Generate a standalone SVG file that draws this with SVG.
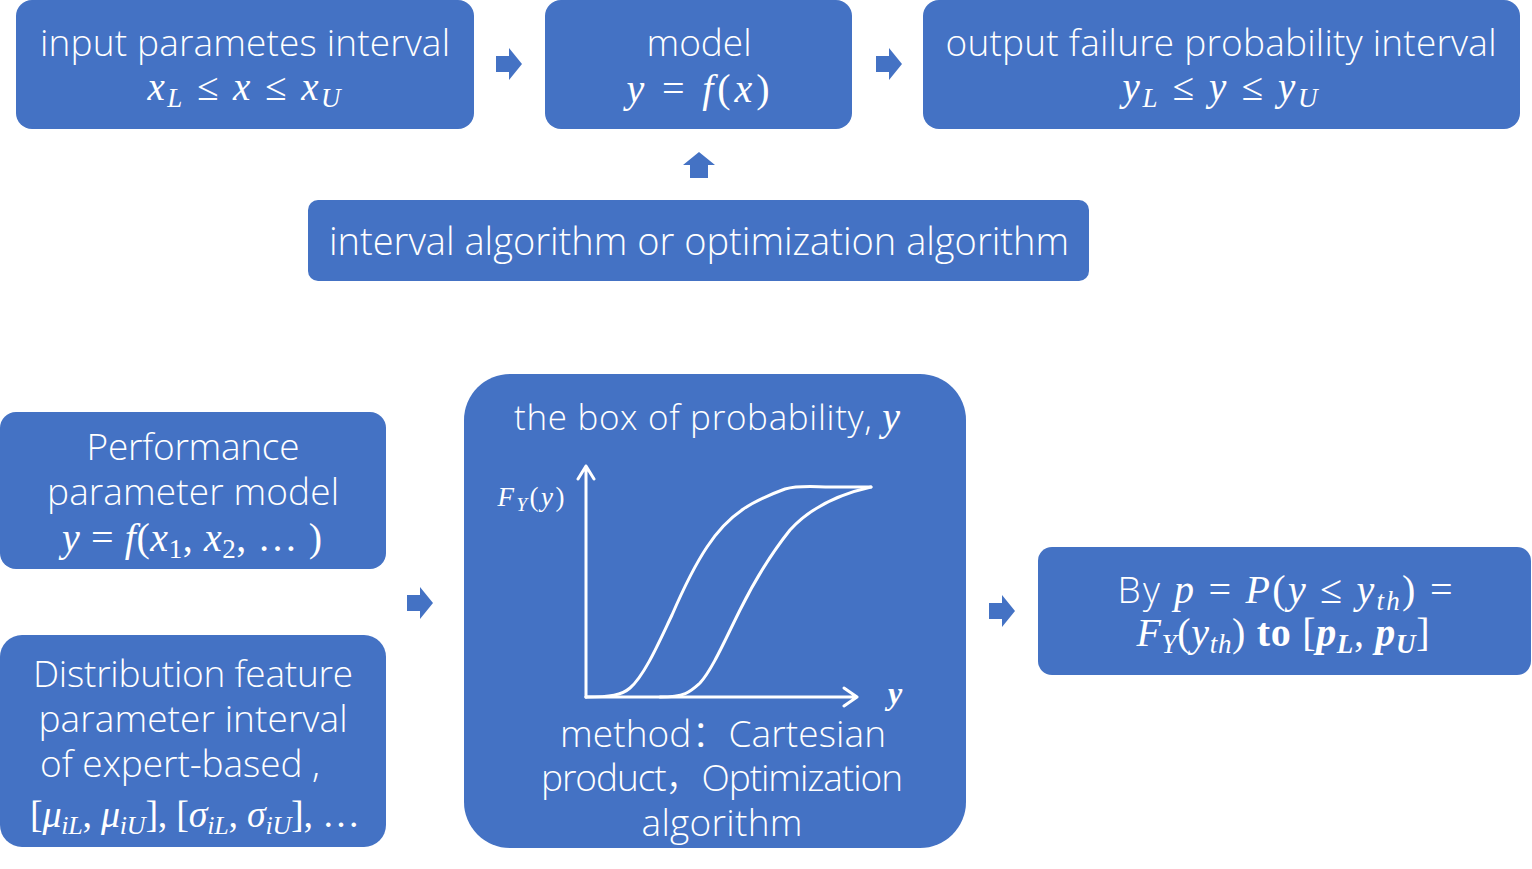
<svg xmlns="http://www.w3.org/2000/svg" width="1532" height="869" viewBox="0 0 1532 869">
<style>
.box{fill:#4472C4}
.t{font-family:"Open Sans","Liberation Sans","Noto Sans CJK SC",sans-serif;font-weight:300;fill:#fff;text-anchor:middle}
.m{font-family:"Liberation Serif","DejaVu Serif",serif;font-style:italic;fill:#fff;text-anchor:middle}
.up{font-style:normal}
.b{font-weight:bold}
.arr{fill:#4472C4}
.ln{fill:none;stroke:#fff;stroke-width:3;stroke-linecap:round;stroke-linejoin:round}
</style>
<defs>
<path id="ra" d="M0,8 H13 V0 L26,16 L13,32 V24 H0 Z"/>
</defs>
<rect width="1532" height="869" fill="#fff"/>

<g id="connectors">
<use href="#ra" class="arr" transform="translate(496,48)"/>
<use href="#ra" class="arr" transform="translate(876,48)"/>
<path class="arr" d="M683,165 L699,152 L715,165 H708 V178 H690 V165 Z"/>
<use href="#ra" class="arr" transform="translate(407,587)"/>
<use href="#ra" class="arr" transform="translate(989,595)"/>
</g>

<g id="n-input">
<rect class="box" x="16" y="0" width="458" height="129" rx="16"/>
<text class="t" x="245" y="56" font-size="37" textLength="410" lengthAdjust="spacing">input parametes interval</text>
<text class="m" x="244" y="100" font-size="39" textLength="193" lengthAdjust="spacing">x<tspan font-size="27" dy="7">L</tspan><tspan dy="-7" class="up"> ≤ </tspan>x<tspan class="up"> ≤ </tspan>x<tspan font-size="27" dy="7">U</tspan></text>
</g>

<g id="n-model">
<rect class="box" x="545" y="0" width="307" height="129" rx="16"/>
<text class="t" x="699" y="56" font-size="37" textLength="105" lengthAdjust="spacing">model</text>
<text class="m" x="698" y="102" font-size="40" textLength="143" lengthAdjust="spacing">y <tspan class="up">=</tspan> f<tspan class="up">(</tspan>x<tspan class="up">)</tspan></text>
</g>

<g id="n-output">
<rect class="box" x="923" y="0" width="597" height="129" rx="16"/>
<text class="t" x="1221" y="56" font-size="37" textLength="551" lengthAdjust="spacing">output failure probability interval</text>
<text class="m" x="1220" y="100" font-size="39" textLength="195" lengthAdjust="spacing">y<tspan font-size="27" dy="7">L</tspan><tspan dy="-7" class="up"> ≤ </tspan>y<tspan class="up"> ≤ </tspan>y<tspan font-size="27" dy="7">U</tspan></text>
</g>

<g id="n-algo">
<rect class="box" x="308" y="200" width="781" height="81" rx="10"/>
<text class="t" x="699" y="255" font-size="38" textLength="740" lengthAdjust="spacing">interval algorithm or optimization algorithm</text>
</g>

<g id="n-perf">
<rect class="box" x="0" y="412" width="386" height="157" rx="16"/>
<text class="t" x="193" y="460" font-size="37" textLength="213" lengthAdjust="spacing">Performance</text>
<text class="t" x="193" y="505" font-size="37" textLength="292" lengthAdjust="spacing">parameter model</text>
<text class="m" x="192" y="551" font-size="40" textLength="260" lengthAdjust="spacing">y <tspan class="up">=</tspan> f<tspan class="up">(</tspan>x<tspan font-size="27" dy="7" class="up">1</tspan><tspan dy="-7" class="up">, </tspan>x<tspan font-size="27" dy="7" class="up">2</tspan><tspan dy="-7" class="up">, … )</tspan></text>
</g>

<text class="t" x="194" y="608" font-size="34">+</text>

<g id="n-dist">
<rect class="box" x="0" y="635" width="386" height="212" rx="22"/>
<text class="t" x="193" y="687" font-size="37" textLength="320" lengthAdjust="spacing">Distribution feature</text>
<text class="t" x="193" y="732" font-size="37" textLength="309" lengthAdjust="spacing">parameter interval</text>
<text class="t" x="180" y="777" font-size="37" textLength="280" lengthAdjust="spacing">of expert-based ,</text>
<text class="m" x="195" y="827" font-size="38" textLength="330" lengthAdjust="spacing"><tspan class="up">[</tspan>μ<tspan font-size="26" dy="7">iL</tspan><tspan dy="-7" class="up">, </tspan>μ<tspan font-size="26" dy="7">iU</tspan><tspan dy="-7" class="up">], [</tspan>σ<tspan font-size="26" dy="7">iL</tspan><tspan dy="-7" class="up">, </tspan>σ<tspan font-size="26" dy="7">iU</tspan><tspan dy="-7" class="up">], …</tspan></text>
</g>

<g id="n-pbox">
<rect class="box" x="464" y="374" width="502" height="474" rx="46"/>
<text class="t" x="707" y="430" font-size="35" textLength="386" lengthAdjust="spacing">the box of probability, <tspan class="m" font-size="40">y</tspan></text>
<path class="ln" d="M586,697 V466 M578,479 L586,466 L594,479"/>
<path class="ln" d="M586,697 H857 M844,688 L857,697 L844,706"/>
<path class="ln" d="M586,697 C610,697 622,695 630,688 C645,675 660,640 672,615 C685,585 695,565 707,547 C730,512 755,500 785,489 C800,485 815,487 830,487 H871"/>
<path class="ln" d="M660,697 C685,697 690,692 700,683 C712,670 725,640 740,610 C755,580 770,555 790,530 C810,508 840,494 871,487"/>
<text class="m" x="531" y="506" font-size="27" textLength="67" lengthAdjust="spacing">F<tspan font-size="19" dy="5">Y</tspan><tspan dy="-5" class="up">(</tspan>y<tspan class="up">)</tspan></text>
<text class="m b" x="895" y="704" font-size="32">y</text>
<text class="t" x="723" y="747" font-size="37" textLength="326" lengthAdjust="spacing">method：Cartesian</text>
<text class="t" x="722" y="791" font-size="37" textLength="362" lengthAdjust="spacing">product，Optimization</text>
<text class="t" x="722" y="836" font-size="37" textLength="161" lengthAdjust="spacing">algorithm</text>
</g>

<g id="n-result">
<rect class="box" x="1038" y="547" width="493" height="128" rx="14"/>
<text class="t" x="1285" y="603" font-size="37" textLength="335" lengthAdjust="spacing">By <tspan class="m" font-size="40">p <tspan class="up">=</tspan> P<tspan class="up">(</tspan>y<tspan class="up"> ≤ </tspan>y<tspan font-size="27" dy="7">th</tspan><tspan dy="-7" class="up">) =</tspan></tspan></text>
<text class="m" x="1283" y="646" font-size="40" textLength="293" lengthAdjust="spacing">F<tspan font-size="27" dy="7">Y</tspan><tspan dy="-7" class="up">(</tspan>y<tspan font-size="27" dy="7">th</tspan><tspan dy="-7" class="up">) </tspan><tspan class="up b">to</tspan><tspan class="up"> [</tspan><tspan class="b">p</tspan><tspan class="b" font-size="27" dy="7">L</tspan><tspan dy="-7" class="up">, </tspan><tspan class="b">p</tspan><tspan class="b" font-size="27" dy="7">U</tspan><tspan dy="-7" class="up">]</tspan></text>
</g>
</svg>
